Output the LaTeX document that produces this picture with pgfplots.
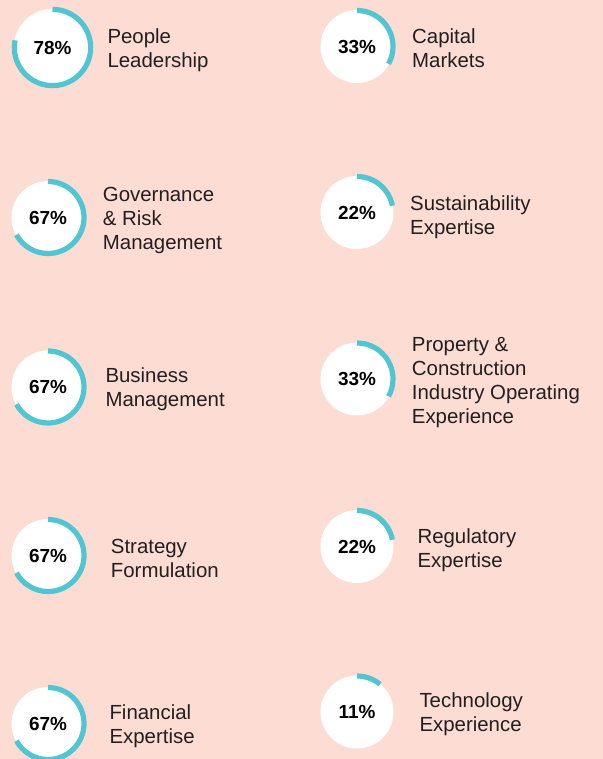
\documentclass[border=0pt]{standalone}
\usepackage{pgfplots}
\pgfplotsset{compat=1.18}
\usepackage{pgfplotstable}
\usepackage{fontspec}
\setmainfont{Liberation Sans}

\definecolor{bgpink}{HTML}{FCDCD3}
\definecolor{ring}{HTML}{52C5D2}
\definecolor{ink}{HTML}{231F20}

% centre of each ring (px), share in percent, relative size
\pgfplotstableread{
x     y      pct  r
52.5  47.5   78   1.06
48    217.5  67   1.0
48    387    67   1.0
48    555.5  67   1.0
48    723.5  67   1.0
357   46.5   33   1.0
357   212.5  22   1.0
357   379    33   1.0
357   546.5  22   1.0
357   712    11   1.0
}\skills

% white disc with a clockwise arc from twelve o'clock
\pgfdeclareplotmark{donut}{%
  \pgfmathsetlengthmacro\rw{36.5bp*\dscale}%
  \pgfmathsetlengthmacro\ra{36bp*\dscale}%
  \pgfmathsetmacro\ea{90-3.6*\pct}%
  \pgfpathcircle{\pgfpointorigin}{\rw}%
  \pgfsetfillcolor{white}%
  \pgfusepath{fill}%
  \pgfsetlinewidth{5.2bp}%
  \pgfsetstrokecolor{ring}%
  \pgfsetbuttcap
  \pgfpathmoveto{\pgfpointpolar{90}{\ra}}%
  \pgfpatharc{90}{\ea}{\ra}%
  \pgfusepath{stroke}%
}

\tikzset{lab/.style={anchor=base west, inner sep=0pt, text=ink,
    font=\fontsize{20.5}{24}\selectfont}}

\begin{document}
\begin{tikzpicture}
\begin{axis}[
    x=1bp, y=1bp,
    xmin=0, xmax=603, ymin=0, ymax=759,
    y dir=reverse,
    hide axis,
    clip marker paths=true,
]
\fill[bgpink] (rel axis cs:0,0) rectangle (rel axis cs:1,1);
\coordinate (bl) at (rel axis cs:0,0);
\coordinate (tr) at (rel axis cs:1,1);

\addplot[only marks, mark=donut,
    visualization depends on={\thisrow{pct}\as\pct},
    visualization depends on={\thisrow{r}\as\dscale},
    point meta=explicit symbolic,
    nodes near coords={\pgfplotspointmeta\%},
    nodes near coords align=center,
    every node near coord/.append style={anchor=center, text=black,
        font=\bfseries\fontsize{19}{19}\selectfont},
] table[x=x, y=y, meta=pct] {\skills};

\node[lab] at (axis cs:107.3,43.5) {People};
\node[lab] at (axis cs:107.3,67.5) {Leadership};
\node[lab] at (axis cs:102.7,201.7) {Governance};
\node[lab] at (axis cs:102.7,225.5) {\& Risk};
\node[lab] at (axis cs:102.7,249.5) {Management};
\node[lab] at (axis cs:105.3,382.7) {Business};
\node[lab] at (axis cs:105.3,406.7) {Management};
\node[lab] at (axis cs:110.7,553.3) {Strategy};
\node[lab] at (axis cs:110.7,577) {Formulation};
\node[lab] at (axis cs:109.3,719) {Financial};
\node[lab] at (axis cs:109.3,743) {Expertise};

\node[lab] at (axis cs:412,44) {Capital};
\node[lab] at (axis cs:412,68) {Markets};
\node[lab] at (axis cs:410,210) {Sustainability};
\node[lab] at (axis cs:410,234) {Expertise};
\node[lab] at (axis cs:411.7,351.7) {Property \&};
\node[lab] at (axis cs:411.7,375.5) {Construction};
\node[lab] at (axis cs:411.7,399.5) {Industry Operating};
\node[lab] at (axis cs:411.7,423.5) {Experience};
\node[lab] at (axis cs:417.3,543.3) {Regulatory};
\node[lab] at (axis cs:417.3,567) {Expertise};
\node[lab] at (axis cs:419.3,707) {Technology};
\node[lab] at (axis cs:419.3,731) {Experience};
\end{axis}
\pgfresetboundingbox
\path[use as bounding box] (bl) rectangle (tr);
\end{tikzpicture}
\end{document}
